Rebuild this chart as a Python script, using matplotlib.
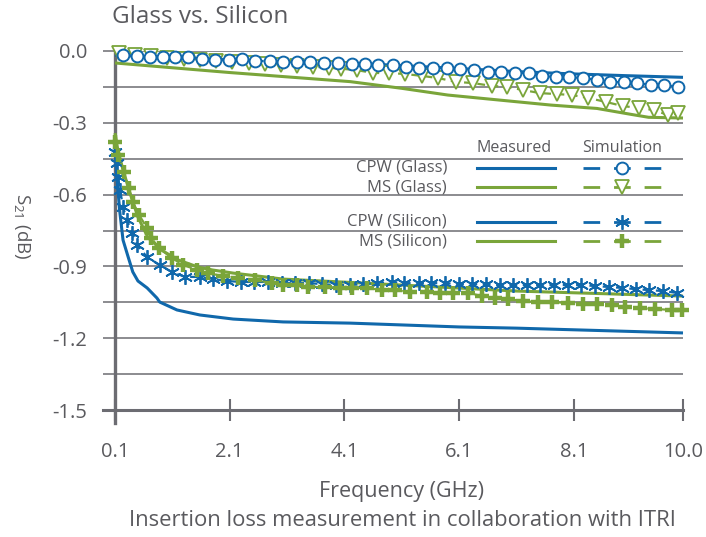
import matplotlib
matplotlib.use("Agg")
import matplotlib.pyplot as plt
from matplotlib.lines import Line2D

plt.rcParams['font.family'] = ['Open Sans', 'DejaVu Sans']
plt.rcParams['mathtext.fontset'] = 'custom'
plt.rcParams['mathtext.rm'] = 'Open Sans'
plt.rcParams['mathtext.it'] = 'Open Sans'

# ---------------- data ----------------
cpw_glass_meas_f = [0.1, 1.0, 2.1, 3.0, 4.2, 5.0, 6.0, 7.1, 8.0, 9.0, 10.0]
cpw_glass_meas_db = [-0.017, -0.028, -0.037, -0.044, -0.05, -0.06, -0.072, -0.086, -0.095, -0.103, -0.11]

cpw_glass_sim_f = [0.24, 0.48, 0.71, 0.94, 1.15, 1.37, 1.62, 1.84, 2.09, 2.31, 2.54, 2.80, 3.03, 3.27,
                   3.50, 3.74, 3.99, 4.23, 4.46, 4.68, 4.95, 5.17, 5.40, 5.64, 5.89, 6.11, 6.36, 6.60,
                   6.83, 7.07, 7.32, 7.54, 7.79, 8.01, 8.26, 8.50, 8.73, 8.97, 9.20, 9.44, 9.67, 9.91]
cpw_glass_sim_db = [-0.017, -0.021, -0.025, -0.025, -0.025, -0.025, -0.033, -0.038, -0.038, -0.033,
                    -0.042, -0.042, -0.046, -0.046, -0.046, -0.050, -0.050, -0.054, -0.054, -0.059,
                    -0.059, -0.067, -0.071, -0.071, -0.071, -0.075, -0.079, -0.088, -0.088, -0.092,
                    -0.092, -0.104, -0.109, -0.109, -0.113, -0.121, -0.130, -0.130, -0.134, -0.142,
                    -0.142, -0.150]

ms_glass_meas_f = [0.1, 2.1, 4.2, 5.1, 5.9, 6.8, 7.7, 8.5, 9.1, 9.4, 10.0]
ms_glass_meas_db = [-0.05, -0.09, -0.128, -0.156, -0.184, -0.205, -0.226, -0.24, -0.265, -0.277, -0.28]

ms_glass_sim_f = [0.17, 0.45, 0.73, 1.01, 1.30, 1.58, 1.86, 2.14, 2.44, 2.71, 2.99, 3.27, 3.55, 3.83,
                  4.04, 4.32, 4.60, 4.88, 5.15, 5.45, 5.73, 6.04, 6.34, 6.67, 6.93, 7.21, 7.51, 7.80,
                  8.07, 8.34, 8.66, 8.95, 9.23, 9.50, 9.74, 9.91]
ms_glass_sim_db = [-0.008, -0.015, -0.022, -0.028, -0.033, -0.038, -0.042, -0.047, -0.052, -0.056,
                   -0.060, -0.064, -0.066, -0.070, -0.074, -0.080, -0.092, -0.092, -0.096, -0.104,
                   -0.113, -0.129, -0.134, -0.146, -0.150, -0.163, -0.176, -0.180, -0.184, -0.196,
                   -0.213, -0.230, -0.238, -0.247, -0.268, -0.260]

cpw_si_meas_f = [0.1, 0.135, 0.186, 0.24, 0.33, 0.41, 0.5, 0.66, 0.83, 0.88, 1.18, 1.58, 2.16, 3.03,
                 4.2, 6.1, 7.1, 10.0]
cpw_si_meas_db = [-0.40, -0.539, -0.677, -0.79, -0.861, -0.923, -0.961, -0.99, -1.032, -1.049,
                  -1.082, -1.103, -1.12, -1.132, -1.137, -1.153, -1.158, -1.178]

cpw_si_sim_f = [0.10, 0.13, 0.15, 0.19, 0.24, 0.31, 0.40, 0.48, 0.66, 0.88, 1.09, 1.32, 1.58, 1.81,
                2.05, 2.30, 2.52, 2.77, 3.01, 3.24, 3.48, 3.71, 3.96, 4.20, 4.43, 4.67, 4.92, 5.14,
                5.39, 5.61, 5.85, 6.10, 6.32, 6.57, 6.81, 7.04, 7.28, 7.51, 7.75, 8.00, 8.22, 8.47,
                8.71, 8.94, 9.18, 9.41, 9.65, 9.90]
cpw_si_sim_db = [-0.422, -0.468, -0.527, -0.581, -0.652, -0.706, -0.760, -0.811, -0.861, -0.894,
                 -0.923, -0.944, -0.944, -0.953, -0.961, -0.965, -0.965, -0.965, -0.970, -0.970,
                 -0.970, -0.974, -0.978, -0.978, -0.974, -0.970, -0.965, -0.970, -0.970, -0.970,
                 -0.970, -0.974, -0.974, -0.974, -0.978, -0.978, -0.978, -0.978, -0.978, -0.978,
                 -0.978, -0.982, -0.986, -0.990, -0.995, -0.999, -1.003, -1.011]

ms_si_meas_f = [0.1, 0.15, 0.24, 0.36, 0.5, 0.67, 0.91, 1.2, 1.55, 1.8, 2.16, 3.03, 4.37, 7.1, 10.0]
ms_si_meas_db = [-0.343, -0.414, -0.497, -0.593, -0.694, -0.777, -0.832, -0.873, -0.903, -0.915,
                 -0.928, -0.953, -0.969, -1.003, -1.024]

ms_si_sim_f = [0.10, 0.15, 0.26, 0.34, 0.41, 0.52, 0.66, 0.73, 0.87, 1.09, 1.29, 1.53, 1.72, 1.98,
               2.24, 2.54, 2.84, 3.03, 3.27, 3.46, 3.76, 4.02, 4.23, 4.49, 4.75, 4.98, 5.24, 5.54,
               5.76, 5.99, 6.25, 6.50, 6.72, 6.95, 7.21, 7.47, 7.72, 7.99, 8.26, 8.50, 8.76, 8.99,
               9.25, 9.51, 9.81, 9.98]
ms_si_sim_db = [-0.380, -0.435, -0.506, -0.572, -0.631, -0.685, -0.740, -0.781, -0.823, -0.865,
                -0.894, -0.915, -0.928, -0.940, -0.949, -0.957, -0.970, -0.978, -0.978, -0.986,
                -0.986, -0.990, -0.990, -0.990, -0.999, -0.999, -1.007, -1.007, -1.011, -1.011,
                -1.011, -1.024, -1.032, -1.036, -1.045, -1.049, -1.049, -1.053, -1.057, -1.057,
                -1.061, -1.070, -1.074, -1.078, -1.082, -1.082]

x_ticks = [0.1, 2.1, 4.1, 6.1, 8.1, 10.0]
x_ticklabels = ['0.1', '2.1', '4.1', '6.1', '8.1', '10.0']
y_ticks = [0.0, -0.15, -0.3, -0.45, -0.6, -0.75, -0.9, -1.05, -1.2, -1.35, -1.5]
y_ticklabels = ['0.0', '', '-0.3', '', '-0.6', '', '-0.9', '', '-1.2', '', '-1.5']

row_labels = ['CPW (Glass)', 'MS (Glass)', 'CPW (Silicon)', 'MS (Silicon)']
header_labels = ['Measured', 'Simulation']

# ---------------- style ----------------
BLUE = '#1068ab'
GREEN = '#7aa53a'
GRID = '#6c6c72'
TXT = '#5a5a5e'

W, H = 706, 537
fig = plt.figure(figsize=(W / 100, H / 100), dpi=100)

def fx(px):
    return px / W

def fy(py):
    return 1 - py / H

ax = fig.add_axes([fx(115), fy(410), fx(683) - fx(115), fy(51) - fy(410)])
ax.set_xlim(0.1, 10.0)
ax.set_ylim(-1.5, 0.0)
for s in ax.spines.values():
    s.set_visible(False)

ax.set_yticks(y_ticks)
ax.set_yticklabels(y_ticklabels)
ax.set_xticks(x_ticks)
ax.set_xticklabels(x_ticklabels)
ax.yaxis.grid(True, color=GRID, lw=1.1, zorder=0)
ax.set_axisbelow(True)
ax.tick_params(axis='y', direction='out', length=8.6, width=1.1, color=GRID,
               pad=11.5, labelsize=14.5, labelcolor=TXT)
ax.tick_params(axis='x', direction='inout', length=16.5, width=1.5, color=GRID,
               pad=14.5, labelsize=14.5, labelcolor=TXT)

# left spine and bottom axis line (extended)
ax.add_line(Line2D([0, 0], [-0.036, 1.008], transform=ax.transAxes, color=GRID,
                   lw=2.4, clip_on=False, zorder=1))
ax.add_line(Line2D([-0.022, 1.0], [0, 0], transform=ax.transAxes, color=GRID,
                   lw=2.2, clip_on=False, zorder=1))

meas_kw = dict(lw=2.2, solid_capstyle='butt', clip_on=False, zorder=3)
sim_kw = dict(lw=1.6, dashes=(3.5, 2.5), clip_on=False, zorder=4)

# measured lines
ax.plot(cpw_glass_meas_f, cpw_glass_meas_db, color=BLUE, **meas_kw)
ax.plot(ms_glass_meas_f, ms_glass_meas_db, color=GREEN, **meas_kw)
ax.plot(cpw_si_meas_f, cpw_si_meas_db, color=BLUE, **meas_kw)
ax.plot(ms_si_meas_f, ms_si_meas_db, color=GREEN, **meas_kw)

# simulation lines with markers
circ = dict(marker='o', ms=8.5, mfc='white', mew=1.4)
tri = dict(marker='v', ms=9.5, mfc='white', mew=1.3)
star = dict(marker=(6, 2, 0), ms=10.5, mew=1.3)
plus = dict(marker='+', ms=10, mew=3.2)

ax.plot(ms_glass_sim_f, ms_glass_sim_db, color=GREEN, mec=GREEN, **tri, **sim_kw)
ax.plot(cpw_glass_sim_f, cpw_glass_sim_db, color=BLUE, mec=BLUE, **circ, **sim_kw)
ax.plot(cpw_si_sim_f, cpw_si_sim_db, color=BLUE, mec=BLUE, **star, **sim_kw)
ax.plot(ms_si_sim_f, ms_si_sim_db, color=GREEN, mec=GREEN, **plus, **sim_kw)

# ---------------- legend table ----------------
fig.text(fx(514), fy(148), header_labels[0], ha='center', va='center', fontsize=11.5, color=TXT)
fig.text(fx(622), fy(148), header_labels[1], ha='center', va='center', fontsize=11.5, color=TXT)
row_y = [168, 187, 222, 241]
row_colors = [BLUE, GREEN, BLUE, GREEN]
row_markers = [circ, tri, star, plus]
for lab, py, col, mk in zip(row_labels, row_y, row_colors, row_markers):
    fig.text(fx(447), fy(py), lab, ha='right', va='center', fontsize=12, color=TXT)
    fig.add_artist(Line2D([fx(477), fx(555)], [fy(py), fy(py)], color=col, lw=2.2,
                          transform=fig.transFigure))
    fig.add_artist(Line2D([fx(583), fx(662)], [fy(py), fy(py)], color=col, lw=2.0,
                          dashes=(6, 5), transform=fig.transFigure))
    fig.add_artist(Line2D([fx(622)], [fy(py)], color=col, mec=col, lw=0,
                          transform=fig.transFigure, **mk))

# ---------------- titles / labels ----------------
fig.text(fx(112), fy(17), 'Glass vs. Silicon', ha='left', va='center', fontsize=17.5, color=TXT)
fig.text(fx(22), fy(226), r'S$_{\mathregular{21}}$ (dB)', rotation=270, ha='center', va='center',
         fontsize=13.5, color=TXT)
fig.text(fx(402), fy(491), 'Frequency (GHz)', ha='center', va='center', fontsize=15.5, color=TXT)
fig.text(fx(402), fy(521), 'Insertion loss measurement in collaboration with ITRI', ha='center',
         va='center', fontsize=15.8, color=TXT)

fig.savefig('out.png', dpi=100)
